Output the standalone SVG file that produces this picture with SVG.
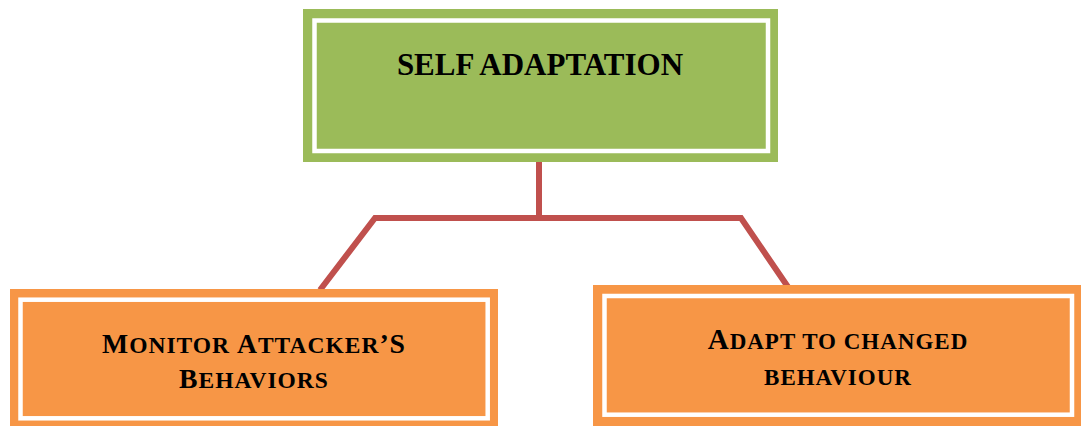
<svg xmlns="http://www.w3.org/2000/svg" width="1081" height="426" viewBox="0 0 1081 426">
  <style>
    .green { fill: #9BBB59; }
    .orange { fill: #F79646; }
    .inner { fill: none; stroke: #FFFFFF; stroke-width: 4.5; }
    .link { fill: none; stroke: #C0504D; stroke-width: 6; stroke-linejoin: miter; }
    .label { font-family: "Liberation Serif", "Times New Roman", serif; font-weight: bold; fill: #000000; text-anchor: middle; }
  </style>
  <rect width="1081" height="426" fill="#FFFFFF"/>

  <!-- connectors -->
  <g id="connectors">
    <line class="link" x1="539" y1="160" x2="539" y2="218"/>
    <polyline class="link" points="320,290 375,218 741,218 788,287"/>
  </g>

  <!-- root node -->
  <g id="self-adaptation">
    <rect class="green" x="303" y="9" width="475" height="153"/>
    <rect class="inner" x="314.5" y="20.5" width="453.5" height="130.5"/>
    <text class="label" x="540" y="74.5" font-size="31">SELF ADAPTATION</text>
  </g>

  <!-- left child -->
  <g id="monitor-behaviors">
    <rect class="orange" x="10" y="289" width="488" height="137"/>
    <rect class="inner" x="20.5" y="299.7" width="467.2" height="118.6"/>
    <text class="label" x="254" y="353.3" font-size="23.5" letter-spacing="1"><tspan font-size="27.7">M</tspan>ONITOR <tspan font-size="27.7">A</tspan>TTACKER<tspan font-size="27.7">’S</tspan></text>
    <text class="label" x="254" y="388.3" font-size="23.5" letter-spacing="1"><tspan font-size="27.7">B</tspan>EHAVIORS</text>
  </g>

  <!-- right child -->
  <g id="adapt-behaviour">
    <rect class="orange" x="593" y="285" width="488" height="141"/>
    <rect class="inner" x="604.5" y="296" width="467.5" height="118.7"/>
    <text class="label" x="838" y="348.5" font-size="23" letter-spacing="1"><tspan font-size="29">A</tspan>DAPT TO CHANGED</text>
    <text class="label" x="838" y="384.5" font-size="23" letter-spacing="1">BEHAVIOUR</text>
  </g>
</svg>
